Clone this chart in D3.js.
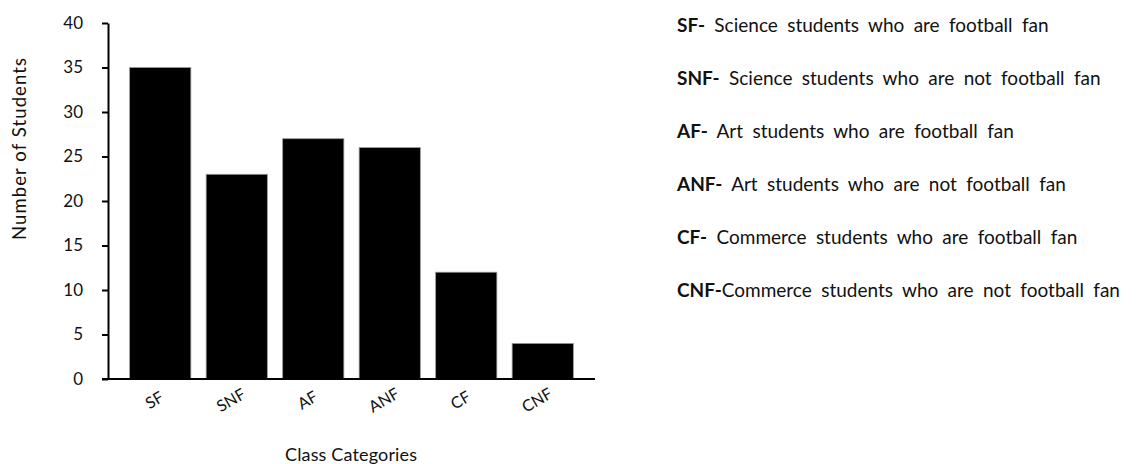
<!DOCTYPE html>
<html>
<head>
<meta charset="utf-8">
<script src="https://cdn.jsdelivr.net/npm/d3@7"></script>
<style>
  body { margin: 0; background: #fff; }
  text { font-family: Lato, "Open Sans", sans-serif; fill: #111; }
</style>
</head>
<body>
<div id="chart"></div>
<script>
// data
var categories = ["SF", "SNF", "AF", "ANF", "CF", "CNF"];
var students = [35, 23, 27, 26, 12, 4];
var yTicks = [0, 5, 10, 15, 20, 25, 30, 35, 40];
var legendCodes = ["SF-", "SNF-", "AF-", "ANF-", "CF-", "CNF-"];
var legendTexts = [
  " Science students who are football fan",
  " Science students who are not football fan",
  " Art students who are football fan",
  " Art students who are not football fan",
  " Commerce students who are football fan",
  "Commerce students who are not football fan"
];

var width = 1140, height = 464;
var svg = d3.select("#chart").append("svg")
    .attr("width", width)
    .attr("height", height);

var x = d3.scaleBand()
    .domain(categories)
    .range([122, 581])
    .paddingInner(0.2)
    .paddingOuter(0.1);

var y = d3.scaleLinear()
    .domain([0, 40])
    .range([379, 23]);

// bars
svg.append("g")
    .selectAll("rect")
    .data(categories)
    .enter().append("rect")
    .attr("x", function(d) { return x(d); })
    .attr("y", function(d, i) { return y(students[i]); })
    .attr("width", x.bandwidth())
    .attr("height", function(d, i) { return y(0) - y(students[i]); })
    .attr("fill", "#000")
    .attr("stroke", "#999")
    .attr("stroke-width", 0.8);

// y axis
var yAxis = svg.append("g")
    .attr("transform", "translate(108,0)")
    .call(d3.axisLeft(y).tickValues(yTicks).tickSize(6).tickSizeOuter(0).tickPadding(19));
yAxis.select(".domain").attr("stroke", "#000").attr("stroke-width", 2);
yAxis.selectAll(".tick line").attr("stroke", "#000").attr("stroke-width", 2);
yAxis.selectAll(".tick text")
    .style("font-family", "Lato, 'Open Sans', sans-serif")
    .style("font-size", "17px")
    .attr("fill", "#111");

// x axis line
svg.append("line")
    .attr("x1", 102).attr("x2", 595)
    .attr("y1", y(0)).attr("y2", y(0))
    .attr("stroke", "#000")
    .attr("stroke-width", 2);

// rotated category labels
svg.append("g")
    .selectAll("text")
    .data(categories)
    .enter().append("text")
    .attr("transform", function(d) {
      return "translate(" + (x(d) + x.bandwidth() / 2 - 3) + "," + (y(0) + 26) + ") rotate(-30)";
    })
    .attr("text-anchor", "middle")
    .style("font-size", "16px")
    .text(function(d) { return d; });

// axis titles
svg.append("text")
    .attr("transform", "translate(26,149) rotate(-90)")
    .attr("text-anchor", "middle")
    .attr("textLength", 182)
    .attr("lengthAdjust", "spacing")
    .style("font-size", "18.5px")
    .text("Number of Students");

svg.append("text")
    .attr("x", 351)
    .attr("y", 461)
    .attr("text-anchor", "middle")
    .attr("textLength", 132)
    .attr("lengthAdjust", "spacing")
    .style("font-size", "18px")
    .text("Class Categories");

// legend of abbreviations
var legend = svg.append("g")
    .selectAll("text")
    .data(legendCodes)
    .enter().append("text")
    .attr("x", 677)
    .attr("y", function(d, i) { return 32 + i * 53; })
    .style("font-size", "19px")
    .style("word-spacing", "4.5px");
legend.append("tspan")
    .style("font-weight", "bold")
    .text(function(d) { return d; });
legend.append("tspan")
    .text(function(d, i) { return legendTexts[i]; });
</script>
</body>
</html>
